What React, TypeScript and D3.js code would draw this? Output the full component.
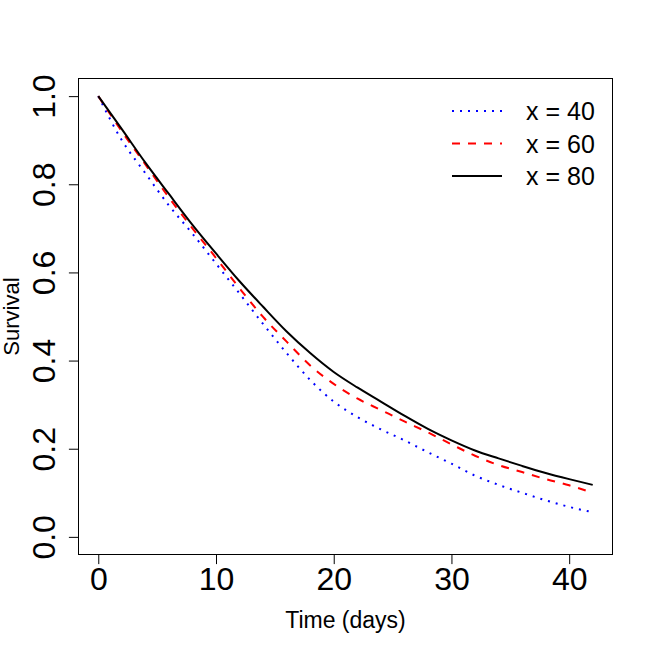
import { useEffect, useRef } from 'react'
import * as d3 from 'd3'

// Survival curves (every 2 days)
const days = [0, 2, 4, 6, 8, 10, 12, 14, 16, 18, 20, 22, 24, 26, 28, 30, 32, 34, 36, 38, 40, 42]
const surv40 = [1.0, 0.9, 0.825, 0.752, 0.688, 0.62, 0.552, 0.483, 0.417, 0.356, 0.307, 0.272, 0.244, 0.219, 0.192, 0.166, 0.139, 0.118, 0.1, 0.083, 0.068, 0.056]
const surv60 = [1.0, 0.92, 0.845, 0.77, 0.7, 0.633, 0.564, 0.499, 0.443, 0.389, 0.347, 0.314, 0.288, 0.262, 0.237, 0.21, 0.184, 0.163, 0.147, 0.131, 0.117, 0.1]
const surv80 = [1.0, 0.925, 0.849, 0.778, 0.708, 0.643, 0.58, 0.522, 0.466, 0.417, 0.374, 0.339, 0.307, 0.275, 0.245, 0.219, 0.196, 0.178, 0.161, 0.145, 0.131, 0.118]

const xTicks = [0, 10, 20, 30, 40]
const yTicks = [0, 0.2, 0.4, 0.6, 0.8, 1.0]
const legendLabels = ['x = 40', 'x = 60', 'x = 80']

export default function App() {
  const svgRef = useRef<SVGSVGElement>(null)

  useEffect(() => {
    if (!svgRef.current) return
    const svg = d3.select(svgRef.current)
    svg.selectAll('*').remove()

    const W = 653
    const H = 653
    const box = { left: 78.5, right: 612.5, top: 78.5, bottom: 554.5 }
    const font = 'Arial, "Liberation Sans", sans-serif'

    svg.attr('width', W).attr('height', H)
    svg.append('rect').attr('width', W).attr('height', H).attr('fill', 'white')

    // R-style 4% padding on both ranges
    const x = d3.scaleLinear().domain([-1.68, 43.68]).range([box.left, box.right])
    const y = d3.scaleLinear().domain([-0.04, 1.04]).range([box.bottom, box.top])

    const series = [
      { values: surv40, color: '#0000ff', dash: '2,6' },
      { values: surv60, color: '#ff0000', dash: '8,8' },
      { values: surv80, color: '#000000', dash: null as string | null },
    ]

    const line = d3.line<number>()
      .x((_, i) => x(days[i]))
      .y(d => y(d))
      .curve(d3.curveMonotoneX)

    series.forEach(s => {
      svg.append('path')
        .datum(s.values)
        .attr('fill', 'none')
        .attr('stroke', s.color)
        .attr('stroke-width', 2)
        .attr('stroke-dasharray', s.dash)
        .attr('d', line)
    })

    // box
    svg.append('rect')
      .attr('x', box.left).attr('y', box.top)
      .attr('width', box.right - box.left)
      .attr('height', box.bottom - box.top)
      .attr('fill', 'none')
      .attr('stroke', 'black')
      .attr('stroke-width', 1)

    // x axis
    const xAxis = svg.append('g')
      .attr('transform', `translate(0,${box.bottom})`)
      .call(d3.axisBottom(x).tickValues(xTicks).tickSize(9.6).tickPadding(0).tickFormat(d3.format('d')))
    xAxis.select('.domain').remove()
    xAxis.selectAll('line').attr('stroke', 'black')
    xAxis.selectAll('text')
      .attr('y', 35.5)
      .attr('dy', null)
      .style('font-family', font)
      .style('font-size', '32px')
      .style('fill', 'black')

    // y axis (labels rotated, like R's default las=0)
    const yAxis = svg.append('g')
      .attr('transform', `translate(${box.left},0)`)
      .call(d3.axisLeft(y).tickValues(yTicks).tickSize(9.6).tickFormat(d3.format('.1f')))
    yAxis.select('.domain').remove()
    yAxis.selectAll('line').attr('stroke', 'black')
    yAxis.selectAll('text')
      .attr('x', null)
      .attr('dy', null)
      .attr('transform', 'translate(-23.5,0) rotate(-90)')
      .attr('text-anchor', 'middle')
      .style('font-family', font)
      .style('font-size', '32px')
      .style('fill', 'black')

    // axis titles
    svg.append('text')
      .attr('x', (box.left + box.right) / 2)
      .attr('y', 627.5)
      .attr('text-anchor', 'middle')
      .style('font-family', font)
      .style('font-size', '23px')
      .text('Time (days)')

    svg.append('text')
      .attr('transform', `translate(18.5,${(box.top + box.bottom) / 2}) rotate(-90)`)
      .attr('text-anchor', 'middle')
      .style('font-family', font)
      .style('font-size', '22px')
      .text('Survival')

    // legend
    const legend = svg.append('g')
    series.forEach((s, i) => {
      const ly = 111 + i * 32.5
      legend.append('line')
        .attr('x1', 452).attr('x2', 502)
        .attr('y1', ly).attr('y2', ly)
        .attr('stroke', s.color)
        .attr('stroke-width', 2)
        .attr('stroke-dasharray', s.dash)
      legend.append('text')
        .attr('x', 526)
        .attr('y', ly)
        .attr('dy', '0.36em')
        .style('font-family', font)
        .style('font-size', '25px')
        .text(legendLabels[i])
    })
  }, [])

  return (
    <svg ref={svgRef} style={{ position: 'absolute', left: 0, top: 0, display: 'block' }}></svg>
  )
}
